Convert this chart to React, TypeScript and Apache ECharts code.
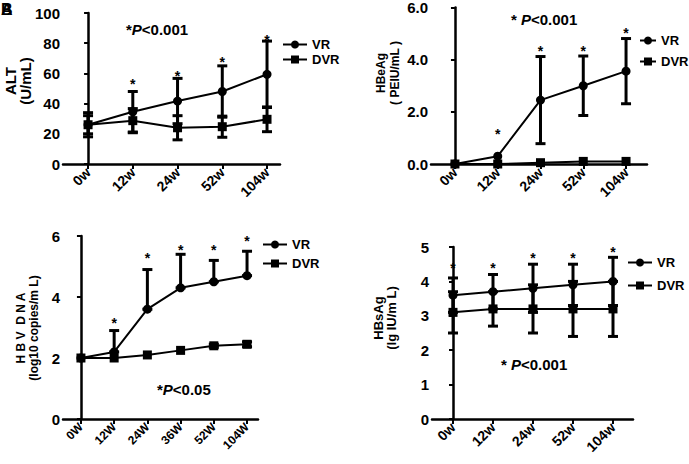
import React, { useEffect, useRef } from 'react';
import * as echarts from 'echarts';

const FONT = '"Liberation Sans", Arial, Helvetica, sans-serif';

// Panel A: ALT (U/mL)
const altCats = ['0w', '12w', '24w', '52w', '104w'];
const altVR = [26, 34.6, 41.7, 48, 59.4];
const altVRErr = [8, 13.4, 15, 17, 22];
const altDVR = [26, 28.7, 24, 24.7, 29.6];
const altDVRErr = [6, 8, 8, 7, 8.2];
const altStars = [null, 53, 58.5, 67.5, 82];

// Panel B: HBeAg (PEIU/mL)
const eagCats = ['0w', '12w', '24w', '52w', '104w'];
const eagVR = [0, 0.3, 2.45, 3.0, 3.56];
const eagVRErr = [0, 0, 1.67, 1.14, 1.25];
const eagDVR = [0, 0, 0.05, 0.1, 0.1];
const eagDVRErr = [0, 0, 0, 0, 0];
const eagStars = [null, 1.15, 4.35, 4.32, 5.04];

// Panel C: HBV DNA (log10 copies/mL)
const dnaCats = ['0W', '12W', '24W', '36W', '52W', '104W'];
const dnaVR = [2.0, 2.2, 3.6, 4.3, 4.5, 4.7];
const dnaVRUpper = [2.0, 2.9, 4.9, 5.4, 5.2, 5.5];
const dnaDVR = [2.0, 2.0, 2.1, 2.25, 2.4, 2.45];
const dnaDVRErr = [0, 0, 0, 0, 0.05, 0.08];
const dnaStars = [null, 3.14, 5.27, 5.54, 5.54, 5.84];

// Panel D: HBsAg (lg IU/mL)
const sagCats = ['0w', '12w', '24w', '52w', '104w'];
const sagVR = [3.6, 3.7, 3.8, 3.9, 4.0];
const sagVRErr = [0.5, 0.5, 0.7, 0.6, 0.7];
const sagDVR = [3.1, 3.2, 3.2, 3.2, 3.2];
const sagDVRErr = [0.6, 0.5, 0.7, 0.8, 0.8];
const sagStars = [4.38, 4.38, 4.67, 4.67, 4.86];

// Axis titles
const yTitles = ['ALT\n(U/mL)', 'HBeAg\n( PEIU/mL )', 'H B V  D N A\n(log10 copies/m L)', 'HBsAg\n(lg IU/m L)'];

type Panel = {
  cats: string[];
  vr: number[];
  vrLow: number[];
  vrHigh: number[];
  dvr: number[];
  dvrLow: number[];
  dvrHigh: number[];
  stars: (number | null)[];
  yMax: number;
  yInterval: number;
  yDecimals: number;
  grid: any;
  xMin: number;
  xMax: number;
  title: { x: number; y: number; size: number; lh: number };
  xLabelSize: number;
  yLabelSize: number;
};

const panels: Panel[] = [
  {
    cats: altCats,
    vr: altVR,
    vrLow: altVR.map((v, i) => v - altVRErr[i]),
    vrHigh: altVR.map((v, i) => v + altVRErr[i]),
    dvr: altDVR,
    dvrLow: altDVR.map((v, i) => v - altDVRErr[i]),
    dvrHigh: altDVR.map((v, i) => v + altDVRErr[i]),
    stars: altStars,
    yMax: 100, yInterval: 20, yDecimals: 0,
    grid: { left: 63, top: 13, width: 217, height: 151 },
    xMin: -0.56, xMax: 4.29,
    title: { x: 18, y: 81, size: 15, lh: 15 },
    xLabelSize: 14, yLabelSize: 15,
  },
  {
    cats: eagCats,
    vr: eagVR,
    vrLow: eagVR.map((v, i) => v - eagVRErr[i]),
    vrHigh: eagVR.map((v, i) => v + eagVRErr[i]),
    dvr: eagDVR,
    dvrLow: eagDVR.map((v, i) => v - eagDVRErr[i]),
    dvrHigh: eagDVR.map((v, i) => v + eagDVRErr[i]),
    stars: eagStars,
    yMax: 6, yInterval: 2, yDecimals: 1,
    grid: { left: 431, top: 7, width: 216, height: 157 },
    xMin: -0.56, xMax: 4.49,
    title: { x: 388, y: 73, size: 12, lh: 14 },
    xLabelSize: 14, yLabelSize: 15,
  },
  {
    cats: dnaCats,
    vr: dnaVR,
    vrLow: dnaVR.slice(),
    vrHigh: dnaVRUpper,
    dvr: dnaDVR,
    dvrLow: dnaDVR.map((v, i) => v - dnaDVRErr[i]),
    dvrHigh: dnaDVR.map((v, i) => v + dnaDVRErr[i]),
    stars: dnaStars,
    yMax: 6, yInterval: 2, yDecimals: 0,
    grid: { left: 63, top: 236, width: 195, height: 183 },
    xMin: -0.54, xMax: 5.33,
    title: { x: 27, y: 328, size: 12, lh: 13 },
    xLabelSize: 12, yLabelSize: 15,
  },
  {
    cats: sagCats,
    vr: sagVR,
    vrLow: sagVR.map((v, i) => v - sagVRErr[i]),
    vrHigh: sagVR.map((v, i) => v + sagVRErr[i]),
    dvr: sagDVR,
    dvrLow: sagDVR.map((v, i) => v - sagDVRErr[i]),
    dvrHigh: sagDVR.map((v, i) => v + sagDVRErr[i]),
    stars: sagStars,
    yMax: 5, yInterval: 1, yDecimals: 0,
    grid: { left: 432, top: 247, width: 201, height: 172 },
    xMin: -0.525, xMax: 4.5,
    title: { x: 385, y: 318, size: 13, lh: 13 },
    xLabelSize: 14, yLabelSize: 15,
  },
];

const pText = (x: number, y: number, s1: string, s2: string) => ({
  type: 'text',
  x,
  y,
  style: {
    text: `{a|${s1}}{b|P}{a|${s2}}`,
    textVerticalAlign: 'top',
    rich: {
      a: { fontFamily: FONT, fontWeight: 'bold', fontSize: 15, fill: '#000' },
      b: { fontFamily: FONT, fontWeight: 'bold', fontStyle: 'italic', fontSize: 15, fill: '#000' },
    },
  },
});

function errRender(params: any, api: any) {
  const x = api.value(0);
  const lo = api.value(1);
  const hi = api.value(2);
  if (hi === lo) return { type: 'group', children: [] };
  const top = api.coord([x, hi]);
  const bot = api.coord([x, lo]);
  const w = 5;
  const st = { stroke: '#000', lineWidth: 3 };
  const children: any[] = [
    { type: 'line', shape: { x1: top[0], y1: top[1], x2: bot[0], y2: bot[1] }, style: st },
    { type: 'line', shape: { x1: top[0] - w, y1: top[1], x2: top[0] + w, y2: top[1] }, style: st },
    { type: 'line', shape: { x1: bot[0] - w, y1: bot[1], x2: bot[0] + w, y2: bot[1] }, style: st },
  ];
  return { type: 'group', children };
}

function starRender(params: any, api: any) {
  const p = api.coord([api.value(0), api.value(1)]);
  return {
    type: 'text',
    x: p[0],
    y: p[1],
    style: {
      text: '*',
      textAlign: 'center',
      textVerticalAlign: 'middle',
      fontFamily: FONT,
      fontWeight: 'bold',
      fontSize: 14,
      fill: '#000',
    },
  };
}

export default function App() {
  const ref = useRef<HTMLDivElement>(null);
  useEffect(() => {
    if (!ref.current) return;
    const chart = echarts.init(ref.current, undefined, { renderer: 'svg' });
    const grids: any[] = [];
    const xAxes: any[] = [];
    const yAxes: any[] = [];
    const series: any[] = [];
    const titles: any[] = [];
    const axisLine = { show: true, lineStyle: { color: '#000', width: 2.5 } };
    panels.forEach((p, k) => {
      grids.push(p.grid);
      const idx = p.cats.map((_, i) => i);
      xAxes.push({
        type: 'value',
        gridIndex: k,
        min: p.xMin,
        max: p.xMax,
        axisLine: { ...axisLine, onZero: false },
        splitLine: { show: false },
        axisTick: { show: true, customValues: idx, length: 5, lineStyle: { color: '#000', width: 2 } },
        axisLabel: {
          customValues: idx,
          rotate: 45,
          margin: 6,
          formatter: (v: number) => p.cats[Math.round(v)] ?? '',
          fontFamily: FONT,
          fontWeight: 'bold',
          fontSize: p.xLabelSize,
          color: '#000',
        },
      });
      yAxes.push({
        type: 'value',
        gridIndex: k,
        min: 0,
        max: p.yMax,
        interval: p.yInterval,
        axisLine,
        splitLine: { show: false },
        axisTick: { show: true, length: 4, lineStyle: { color: '#000', width: 2 } },
        axisLabel: {
          margin: 3,
          formatter: (v: number) => v.toFixed(p.yDecimals),
          fontFamily: FONT,
          fontWeight: 'bold',
          fontSize: p.yLabelSize,
          color: '#000',
        },
      });
      titles.push({
        type: 'text',
        x: p.title.x,
        y: p.title.y,
        rotation: Math.PI / 2,
        style: {
          text: yTitles[k],
          textAlign: 'center',
          textVerticalAlign: 'middle',
          fontFamily: FONT,
          fontWeight: 'bold',
          fontSize: p.title.size,
          lineHeight: p.title.lh,
          fill: '#000',
        },
      });
      series.push({
        type: 'custom',
        name: 'VR-err',
        xAxisIndex: k,
        yAxisIndex: k,
        renderItem: errRender,
        data: idx.map((i) => [i, p.vrLow[i], p.vrHigh[i]]),
        z: 1,
        silent: true,
      });
      series.push({
        type: 'custom',
        name: 'DVR-err',
        xAxisIndex: k,
        yAxisIndex: k,
        renderItem: errRender,
        data: idx.map((i) => [i, p.dvrLow[i], p.dvrHigh[i]]),
        z: 1,
        silent: true,
      });
      series.push({
        type: 'line',
        name: 'VR',
        xAxisIndex: k,
        yAxisIndex: k,
        data: idx.map((i) => [i, p.vr[i]]),
        symbol: 'circle',
        symbolSize: 9,
        itemStyle: { color: '#000' },
        lineStyle: { color: '#000', width: 2 },
        z: 3,
      });
      series.push({
        type: 'line',
        name: 'DVR',
        xAxisIndex: k,
        yAxisIndex: k,
        data: idx.map((i) => [i, p.dvr[i]]),
        symbol: 'rect',
        symbolSize: 9,
        itemStyle: { color: '#000' },
        lineStyle: { color: '#000', width: 2 },
        z: 3,
      });
      series.push({
        type: 'custom',
        name: 'stars',
        xAxisIndex: k,
        yAxisIndex: k,
        renderItem: starRender,
        data: idx.filter((i) => p.stars[i] != null).map((i) => [i, p.stars[i]]),
        z: 4,
        silent: true,
      });
    });

    const legendText = { fontFamily: FONT, fontWeight: 'bold', fontSize: 13, lineHeight: 13, color: '#000' };
    const legendBase = {
      orient: 'vertical',
      data: ['VR', 'DVR'],
      itemWidth: 24,
      itemHeight: 10,
      selectedMode: false,
      textStyle: legendText,
    };

    chart.setOption({
      animation: false,
      backgroundColor: '#fff',
      grid: grids,
      xAxis: xAxes,
      yAxis: yAxes,
      series,
      legend: [
        { ...legendBase, left: 277, top: 33, itemGap: 2 },
        { ...legendBase, left: 634, top: 29, itemGap: 8, itemWidth: 16 },
        { ...legendBase, left: 257, top: 233, itemGap: 6 },
        { ...legendBase, left: 622, top: 251, itemGap: 10 },
      ],
      graphic: [
        ...titles,
        {
          type: 'text', x: 1, y: 1,
          style: { text: 'A', fontFamily: FONT, fontWeight: 'bold', fontSize: 16, fill: '#000' },
        },
        {
          type: 'text', x: 1, y: 1,
          style: { text: 'B', fontFamily: FONT, fontWeight: 'bold', fontSize: 16, fill: '#000' },
        },
        pText(126, 22, '*', '<0.001'),
        pText(511, 12, '* ', '<0.001'),
        pText(157, 382, '*', '<0.05'),
        pText(501, 357, '* ', '<0.001'),
      ],
    });
    return () => chart.dispose();
  }, []);
  return (
    <div
      ref={ref}
      style={{ position: 'fixed', left: 0, top: 0, width: 689, height: 464, background: '#fff' }}
    />
  );
}
